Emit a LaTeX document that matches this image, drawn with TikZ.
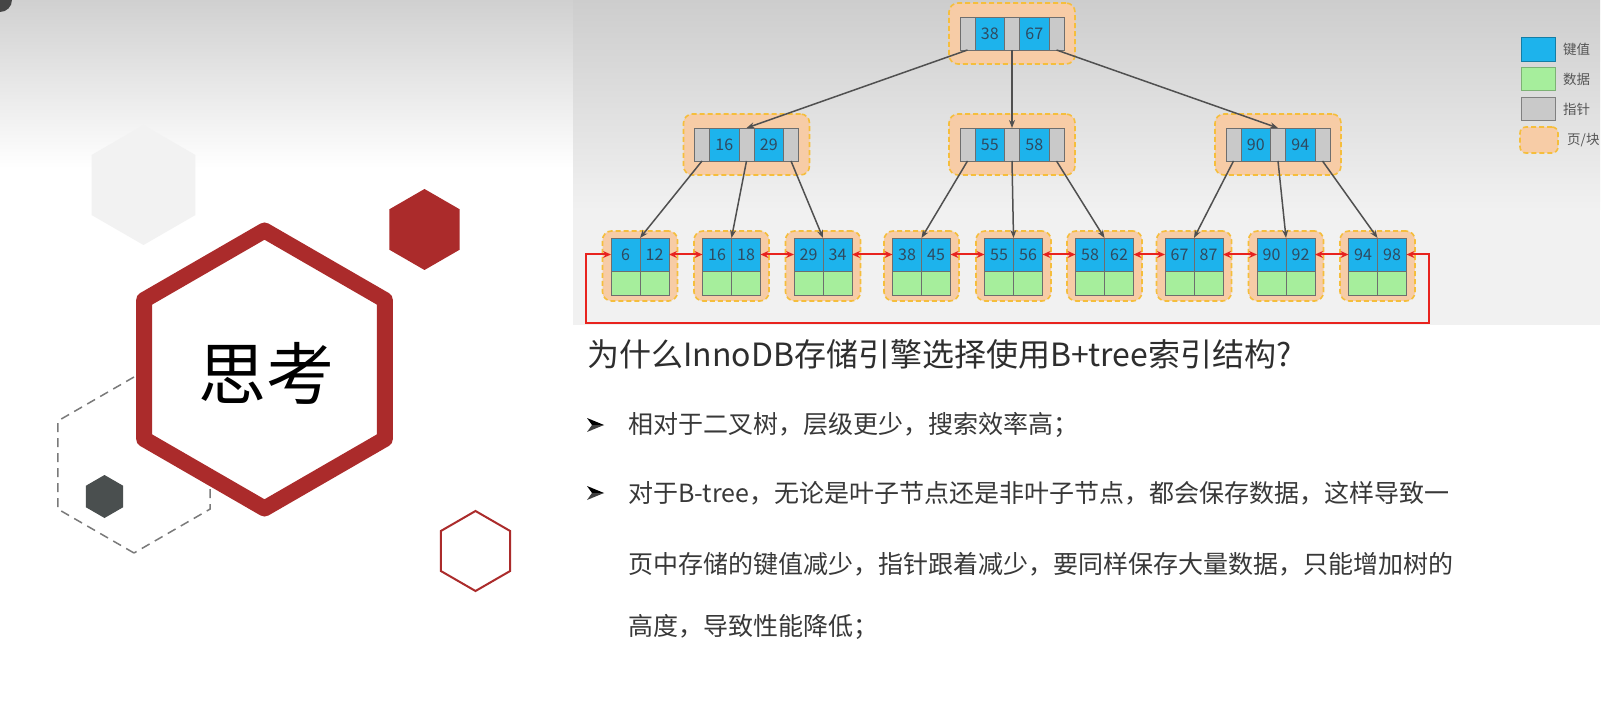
\documentclass[tikz,border=0pt]{standalone}
\usepackage{fontspec}
\setmainfont{Noto Sans CJK SC}
\usetikzlibrary{arrows.meta}

% palette
\definecolor{hexred}{HTML}{AB2B2B}
\definecolor{hexdark}{HTML}{4A4F4F}
\definecolor{hexfaint}{HTML}{F2F2F2}
\definecolor{dashgray}{HTML}{7A7A7A}
\definecolor{topgray}{HTML}{D0D0D0}
\definecolor{paneltop}{HTML}{CDCDCD}
\definecolor{panellow}{HTML}{F1F1F1}
\definecolor{keyblue}{HTML}{1DB3EC}
\definecolor{datagreen}{HTML}{A6EE9C}
\definecolor{ptrgray}{HTML}{C9C9C9}
\definecolor{cellline}{HTML}{6E6E6E}
\definecolor{keytext}{HTML}{2F4A60}
\definecolor{pagefill}{HTML}{F7CCA6}
\definecolor{pagedash}{HTML}{F5BE3C}
\definecolor{linkred}{HTML}{E8231E}
\definecolor{edgegray}{HTML}{505050}
\definecolor{textdark}{HTML}{2E2E2E}
\definecolor{textbody}{HTML}{383838}
\definecolor{legendtext}{HTML}{555555}

% type sizes
\newcommand\fKey{\fontsize{16}{18}\selectfont}
\newcommand\fTitle{\fontsize{32}{36}\selectfont}
\newcommand\fBody{\fontsize{25}{29}\selectfont}
\newcommand\fLegend{\fontsize{13.5}{16}\selectfont}
\newcommand\fBig{\fontsize{68}{76}\selectfont}

% pointy-top hexagon: centre x, centre y, radius
\newcommand\hexpath[3]{(#1,#2) +(90:#3) -- +(150:#3) -- +(210:#3) -- +(270:#3) -- +(330:#3) -- +(30:#3) -- cycle}

% inner page: name, centre x, centre y, key 1, key 2
\newcommand\innerpage[5]{%
  \node[page, minimum width=126pt, minimum height=61pt] (#1) at (#2,#3) {};
  \node[ptr] (#1-p2) at (#2,#3) {};
  \node[key, anchor=east] (#1-k1) at (#1-p2.west) {#4};
  \node[ptr, anchor=east] (#1-p1) at (#1-k1.west) {};
  \node[key, anchor=west] (#1-k2) at (#1-p2.east) {#5};
  \node[ptr, anchor=west] (#1-p3) at (#1-k2.east) {};
}

% leaf page: name, centre x, key 1, key 2
\newcommand\leafpage[4]{%
  \node[page, minimum width=75pt, minimum height=70pt] (#1) at (#2,266) {};
  \node[lkey, anchor=south east] (#1-k1) at (#2,271) {#3};
  \node[lkey, anchor=south west] (#1-k2) at (#2,271) {#4};
  \node[ldata, anchor=north east] (#1-d1) at (#2,271) {};
  \node[ldata, anchor=north west] (#1-d2) at (#2,271) {};
}

\begin{document}
\begin{tikzpicture}[x=1pt, y=-1pt,
  cell/.style={draw=cellline, line width=0.8pt, inner sep=0pt, outer sep=0pt},
  ptr/.style={cell, fill=ptrgray, minimum width=15pt, minimum height=33pt},
  key/.style={cell, fill=keyblue, minimum width=29.5pt, minimum height=33pt, text=keytext, font=\fKey},
  lkey/.style={cell, fill=keyblue, minimum width=29pt, minimum height=33pt, text=keytext, font=\fKey},
  ldata/.style={cell, fill=datagreen, minimum width=29pt, minimum height=24pt},
  page/.style={draw=pagedash, fill=pagefill, line width=1.6pt, dash pattern=on 5pt off 3pt, rounded corners=9pt, inner sep=0pt, outer sep=0pt},
  tree/.style={draw=edgegray, line width=1.5pt, -{Stealth[length=8pt,width=6pt]}},
  link/.style={draw=linkred, line width=2pt, {Stealth[length=8pt,width=7pt]}-{Stealth[length=8pt,width=7pt]}},
  swatch/.style={line width=1pt, minimum width=34pt, minimum height=24pt, inner sep=0pt},
  legendlabel/.style={anchor=west, inner sep=0pt, font=\fLegend, text=legendtext},
  textline/.style={anchor=west, inner sep=0pt, font=\fBody, text=textbody},
]
\useasboundingbox (0,0) rectangle (1619,708);
\fill[white] (0,0) rectangle (1619,708);

% top fade on the left
\shade[top color=topgray, bottom color=white] (0,0) rectangle (573,168);
\fill[gray!55!black] (0,0) circle[radius=12pt];

% diagram panel
\fill[panellow] (573,0) rectangle (1600,325);
\shade[top color=paneltop, bottom color=panellow] (573,0) rectangle (1600,210);

% hexagon decoration
\fill[hexfaint] \hexpath{143.5}{185}{60};
\draw[dashgray, line width=1.5pt, dash pattern=on 9pt off 6pt] \hexpath{134}{465}{88};
\fill[hexdark] \hexpath{104.5}{496.5}{21.5};
\draw[hexred, line width=16pt, line join=round, fill=white] \hexpath{264.5}{369.5}{139};
\fill[hexred] \hexpath{424.5}{229.5}{40.5};
\draw[hexred, line width=2pt] \hexpath{475.5}{551}{40};
\node[font=\fBig, text=black, inner sep=0pt] (think) at (266,373) {思考};

% B+tree: inner pages
\innerpage{root}{1012}{33.5}{38}{67}
\innerpage{nl}{746.5}{144.5}{16}{29}
\innerpage{nm}{1012}{144.5}{55}{58}
\innerpage{nr}{1278}{144.5}{90}{94}

% leaf pages
\leafpage{la}{640}{6}{12}
\leafpage{lb}{731.5}{16}{18}
\leafpage{lc}{823}{29}{34}
\leafpage{ld}{921.5}{38}{45}
\leafpage{le}{1013.5}{55}{56}
\leafpage{lf}{1104.5}{58}{62}
\leafpage{lg}{1194}{67}{87}
\leafpage{lh}{1286}{90}{92}
\leafpage{li}{1377.5}{94}{98}

% child pointers
\draw[tree] (root-p1.south) -- (nl-p2.north);
\draw[tree] (root-p2.south) -- (nm-p2.north);
\draw[tree] (root-p3.south) -- (nr-p2.north);
\draw[tree] (nl-p1.south) -- (la-k1.north east);
\draw[tree] (nl-p2.south) -- (lb-k1.north east);
\draw[tree] (nl-p3.south) -- (lc-k1.north east);
\draw[tree] (nm-p1.south) -- (ld-k1.north east);
\draw[tree] (nm-p2.south) -- (le-k1.north east);
\draw[tree] (nm-p3.south) -- (lf-k1.north east);
\draw[tree] (nr-p1.south) -- (lg-k1.north east);
\draw[tree] (nr-p2.south) -- (lh-k1.north east);
\draw[tree] (nr-p3.south) -- (li-k1.north east);

% doubly linked leaf list
\draw[link] (la-k2.east) -- (lb-k1.west);
\draw[link] (lb-k2.east) -- (lc-k1.west);
\draw[link] (lc-k2.east) -- (ld-k1.west);
\draw[link] (ld-k2.east) -- (le-k1.west);
\draw[link] (le-k2.east) -- (lf-k1.west);
\draw[link] (lf-k2.east) -- (lg-k1.west);
\draw[link] (lg-k2.east) -- (lh-k1.west);
\draw[link] (lh-k2.east) -- (li-k1.west);
\coordinate (loopL) at (586,323);
\coordinate (loopR) at (1429,323);
\draw[link] (li-k2.east) -| (loopR) -- (loopL) |- (la-k1.west);

% legend
\node[swatch, fill=keyblue, draw=keyblue!70!black] (legkey) at (1538,49.5) {};
\node[swatch, fill=datagreen, draw=datagreen!75!black, minimum height=23pt] (legdata) at (1538,79.5) {};
\node[swatch, fill=ptrgray, draw=gray, minimum height=23pt] (legptr) at (1538,109.5) {};
\node[page, minimum width=38pt, minimum height=26pt, rounded corners=6pt] (legpage) at (1539,140) {};
\node[legendlabel] (legkeyt) at (1563,49.5) {键值};
\node[legendlabel] (legdatat) at (1563,79.5) {数据};
\node[legendlabel] (legptrt) at (1563,109.5) {指针};
\node[legendlabel] (legpaget) at (1567,140) {页/块};

% question and answers
\node[anchor=west, inner sep=0pt, font=\fTitle, text=textdark] (title) at (587,354) {为什么InnoDB存储引擎选择使用B+tree索引结构?};

\foreach \by in {425,493}{
  \fill[black] (587,\by-7) -- (604,\by) -- (592,\by) -- cycle;
  \fill[black!75] (587,\by+7) -- (604,\by) -- (592,\by) -- cycle;
}
\node[textline] (a1) at (628,425) {相对于二叉树，层级更少，搜索效率高；};
\node[textline] (a2) at (628,493) {对于B-tree，无论是叶子节点还是非叶子节点，都会保存数据，这样导致一};
\node[textline] (a3) at (628,564) {页中存储的键值减少，指针跟着减少，要同样保存大量数据，只能增加树的};
\node[textline] (a4) at (628,627) {高度，导致性能降低；};
\end{tikzpicture}
\end{document}
